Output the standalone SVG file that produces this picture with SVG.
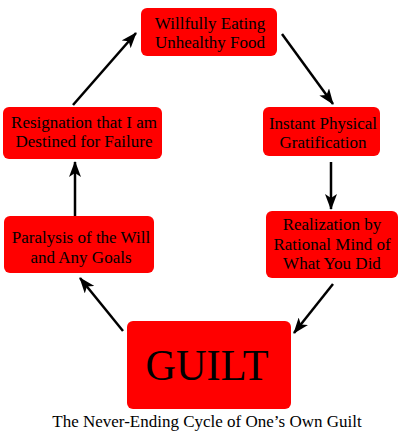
<svg xmlns="http://www.w3.org/2000/svg" width="400" height="437" viewBox="0 0 400 437">
<style>
.box{fill:#ff0000;}
.t{font-family:"Liberation Serif","Times New Roman",serif;font-size:17px;fill:#000;text-anchor:middle;}
.big{font-family:"Liberation Serif","Times New Roman",serif;font-size:44px;fill:#000;text-anchor:middle;}
.cap{font-family:"Liberation Serif","Times New Roman",serif;font-size:17px;fill:#000;text-anchor:middle;}
.c{stroke:#000;stroke-width:2.5;fill:none;marker-end:url(#ah);}
</style>
<defs>
<marker id="ah" viewBox="0 0 16 12" refX="15" refY="6" markerWidth="16" markerHeight="12" markerUnits="userSpaceOnUse" orient="auto">
<path d="M0,0 L16,6 L0,12 L4,6 Z" fill="#000"/>
</marker>
</defs>
<rect width="400" height="437" fill="#fff"/>
<g id="connectors">
<line class="c" x1="73" y1="105" x2="136" y2="33"/>
<line class="c" x1="282" y1="34" x2="333" y2="104"/>
<line class="c" x1="331" y1="162" x2="331" y2="209"/>
<line class="c" x1="333" y1="284" x2="294" y2="333"/>
<line class="c" x1="123" y1="331" x2="80" y2="278"/>
<line class="c" x1="75" y1="216" x2="75" y2="162"/>
</g>
<g id="n-eating">
<rect class="box" x="141" y="8" width="136" height="48" rx="6"/>
<text class="t" x="210" y="29">Willfully Eating</text>
<text class="t" x="210" y="48">Unhealthy Food</text>
</g>
<g id="n-instant">
<rect class="box" x="263" y="107" width="117" height="49" rx="6"/>
<text class="t" x="323" y="129">Instant Physical</text>
<text class="t" x="323" y="148">Gratification</text>
</g>
<g id="n-realization">
<rect class="box" x="266" y="211" width="132" height="67" rx="6"/>
<text class="t" x="332" y="230">Realization by</text>
<text class="t" x="332" y="250">Rational Mind of</text>
<text class="t" x="332" y="269">What You Did</text>
</g>
<g id="n-guilt">
<rect class="box" x="127" y="321" width="164" height="88" rx="6"/>
<text class="big" x="207" y="380" textLength="123" lengthAdjust="spacingAndGlyphs">GUILT</text>
</g>
<g id="n-paralysis">
<rect class="box" x="4" y="216" width="150" height="57" rx="6"/>
<text class="t" x="81" y="243">Paralysis of the Will</text>
<text class="t" x="81" y="263">and Any Goals</text>
</g>
<g id="n-resignation">
<rect class="box" x="3" y="107" width="159" height="52" rx="6"/>
<text class="t" x="84" y="128">Resignation that I am</text>
<text class="t" x="84" y="147">Destined for Failure</text>
</g>
<text class="cap" x="207" y="427">The Never-Ending Cycle of One’s Own Guilt</text>
</svg>
